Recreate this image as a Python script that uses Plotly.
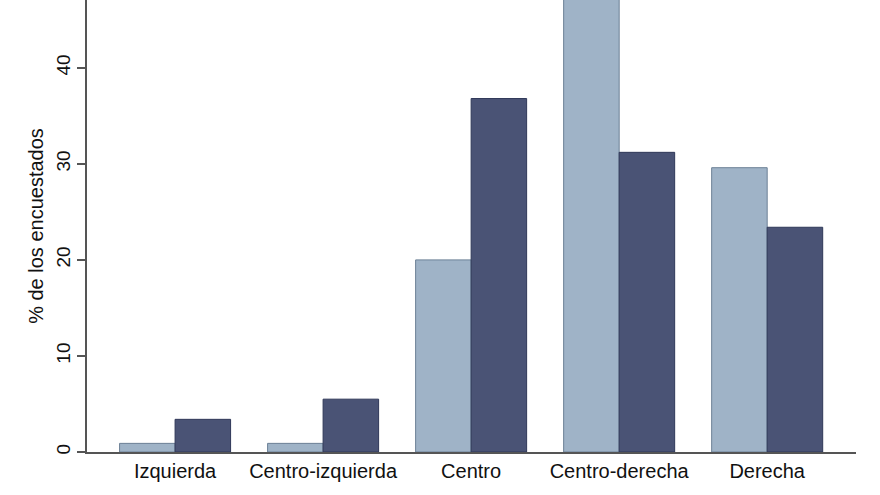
import plotly.graph_objects as go

categories = ["Izquierda", "Centro-izquierda", "Centro", "Centro-derecha", "Derecha"]
serie_clara = [0.9, 0.9, 20.0, 48.6, 29.6]
serie_oscura = [3.4, 5.5, 36.8, 31.2, 23.4]
y_ticks = [0, 10, 20, 30, 40]

fig = go.Figure()
fig.add_trace(go.Bar(
    x=categories, y=serie_clara, name="Serie 1",
    marker=dict(color="#9fb3c7", line=dict(color="#6c8096", width=1)),
))
fig.add_trace(go.Bar(
    x=categories, y=serie_oscura, name="Serie 2",
    marker=dict(color="#4a5375", line=dict(color="#2f3858", width=1)),
))

fig.update_layout(
    width=880, height=495,
    margin=dict(l=87, r=24, t=0, b=43),
    paper_bgcolor="white", plot_bgcolor="white",
    barmode="group", bargap=0.25, bargroupgap=0,
    showlegend=False,
    font=dict(family="Liberation Sans, Arial, sans-serif", color="#111", size=19),
)
fig.update_xaxes(
    range=[-0.595, 4.6],
    showline=True, linecolor="#555", linewidth=1.5,
    ticks="", showgrid=False, zeroline=False,
    tickfont=dict(size=20),
)
fig.update_yaxes(
    range=[0, 47.06],
    tickvals=y_ticks, ticktext=[str(v) for v in y_ticks],
    showline=True, linecolor="#555", linewidth=1.5,
    ticks="outside", ticklen=8, tickwidth=1.5, tickcolor="#555",
    tickangle=-90, tickfont=dict(size=19),
    showgrid=False, zeroline=False,
    title=dict(text="% de los encuestados", font=dict(size=20), standoff=4),
    automargin=False,
)

fig.write_html(
    "out.html",
    config={"displayModeBar": False},
    post_script="document.body.style.margin='0';document.body.style.padding='0';",
)
